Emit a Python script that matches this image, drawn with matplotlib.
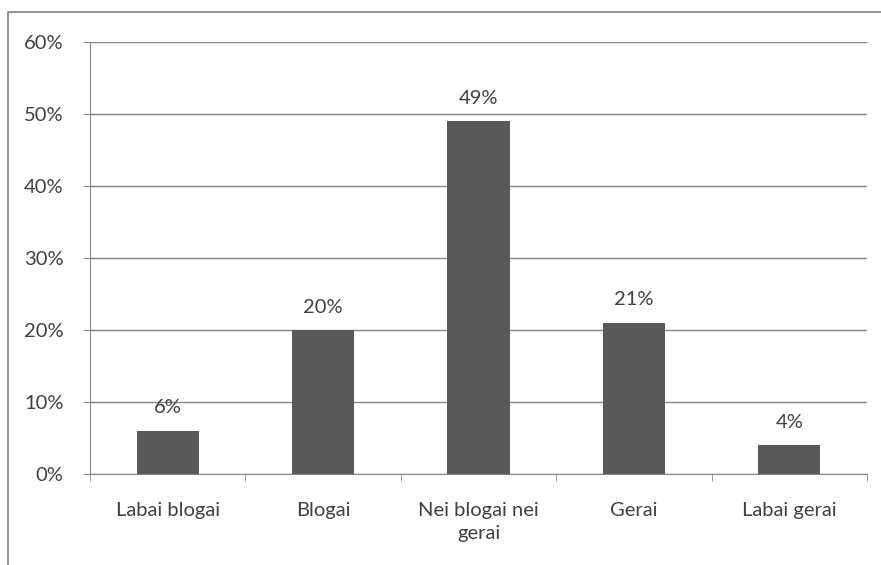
import matplotlib.pyplot as plt
from matplotlib.patches import Rectangle
from matplotlib.ticker import FixedLocator

categories = ["Labai blogai", "Blogai", "Nei blogai nei\ngerai", "Gerai", "Labai gerai"]
shares = [6, 20, 49, 21, 4]
y_ticks = [0, 10, 20, 30, 40, 50, 60]

plt.rcParams['font.family'] = ['Lato', 'DejaVu Sans']
text_color = "#404040"
grid_color = "#868686"
fsize = 14.5

fig = plt.figure(figsize=(8.81, 5.65), dpi=100)
fig.patch.set_facecolor("white")

# outer chart frame
fig.patches.append(Rectangle((8 / 881, -0.02), 1.0, 1 - 12 / 565 + 0.02,
                             transform=fig.transFigure, fill=False,
                             edgecolor="#7f7f7f", linewidth=1.2))

ax = fig.add_axes([90 / 881, 1 - 474 / 565, 777 / 881, 432 / 565])

x = range(len(categories))
ax.bar(x, shares, width=0.4, color="#595959", zorder=3)

for xi, v in zip(x, shares):
    ax.text(xi, v + 2.0, f"{v}%", ha="center", va="bottom",
            fontsize=fsize, color=text_color)

ax.set_xlim(-0.5, len(categories) - 0.5)
ax.set_ylim(0, 60)
ax.set_yticks(y_ticks)
ax.set_yticklabels([f"{t}%" for t in y_ticks])
ax.yaxis.grid(True, color=grid_color, linewidth=1)
ax.set_axisbelow(True)

ax.set_xticks(list(x))
ax.set_xticklabels(categories, linespacing=1.45)
ax.xaxis.set_minor_locator(FixedLocator([i - 0.5 for i in range(len(categories) + 1)]))
ax.tick_params(axis="x", which="major", length=0, pad=20,
               labelsize=fsize, labelcolor=text_color)
ax.tick_params(axis="x", which="minor", length=5, color=grid_color)
ax.tick_params(axis="y", length=5, color=grid_color, pad=14,
               labelsize=fsize, labelcolor=text_color)

for side in ["top", "right"]:
    ax.spines[side].set_visible(False)
ax.spines["left"].set_color(grid_color)
ax.spines["bottom"].set_color(grid_color)

fig.savefig("out.png", dpi=100)
